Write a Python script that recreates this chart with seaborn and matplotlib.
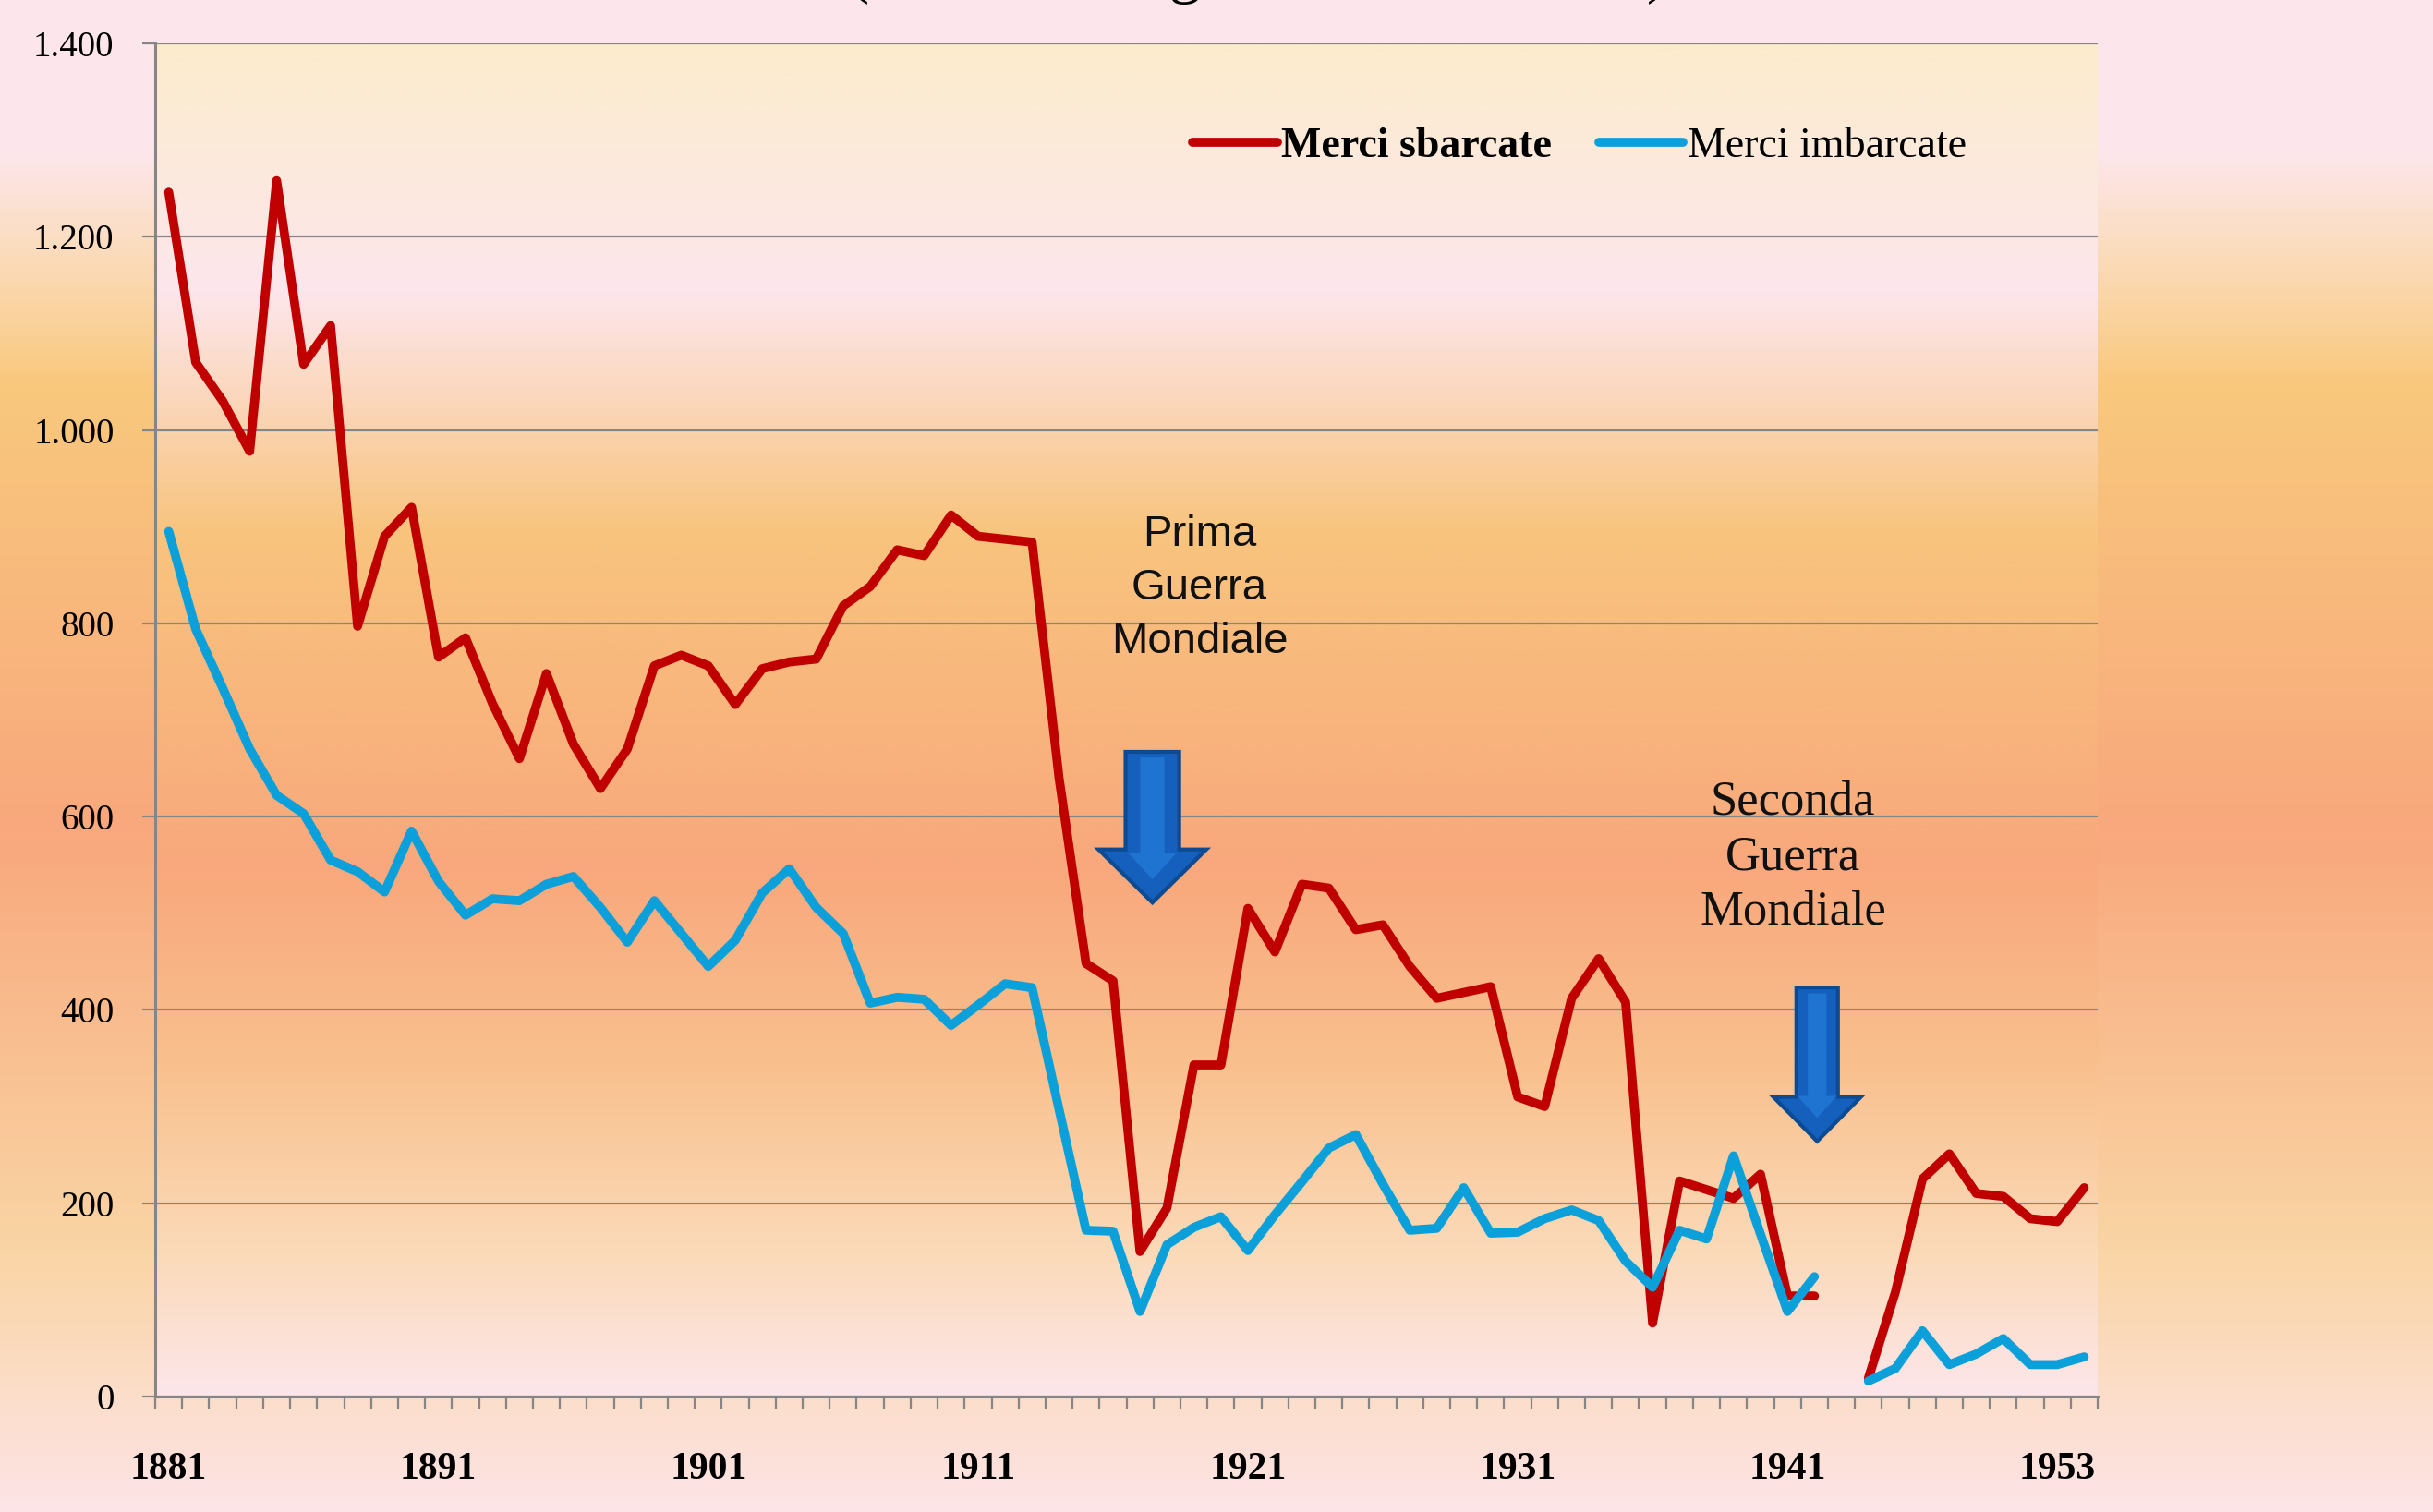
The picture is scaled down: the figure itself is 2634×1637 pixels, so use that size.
import numpy as np
import pandas as pd
import matplotlib as mpl
import matplotlib.pyplot as plt
import seaborn as sns
from matplotlib.colors import LinearSegmentedColormap
from matplotlib.lines import Line2D
from matplotlib.patches import FancyArrow
from matplotlib.ticker import FuncFormatter

# Categories: 1881-1942, one empty slot for the war gap, then 1946-1954
YEARS = list(range(1881, 1943)) + [1943] + list(range(1946, 1955))

# Merci sbarcate (thousand tonnes); None = no data
SBARCATE = [
    1246, 1070, 1030, 978, 1258, 1068, 1108, 797, 890, 920,
    765, 785, 717, 660, 748, 675, 629, 670, 756, 767,
    756, 716, 753, 760, 763, 818, 838, 876, 870, 912,
    890, 887, 884, 640, 448, 430, 150, 195, 343, 343,
    505, 460, 530, 526, 483, 488, 445, 412, 418, 424,
    310, 300, 412, 453, 408, 76, 223, 214, 205, 230,
    104, 104, None, 19, 108, 225, 251, 210, 207, 184,
    181, 216,
]
# Merci imbarcate
IMBARCATE = [
    895, 794, 733, 670, 622, 603, 555, 543, 522, 585,
    533, 498, 515, 513, 530, 538, 506, 470, 513, 479,
    445, 472, 521, 546, 506, 479, 407, 413, 411, 384,
    405, 427, 423, 297, 172, 171, 88, 157, 175, 186,
    151, 188, 222, 257, 271, 220, 172, 174, 216, 169,
    170, 184, 193, 182, 140, 113, 172, 163, 249, 168,
    88, 124, None, 16, 29, 68, 33, 44, 60, 33,
    33, 41,
]
SERIES = ("Merci sbarcate", "Merci imbarcate")
LABEL_EVERY = 10

RED = "#C00000"
BLUE = "#0CA0DB"
GRID = "#868686"
SERIF = ["Liberation Serif", "DejaVu Serif"]
SANS = ["Liberation Sans", "DejaVu Sans"]

rows = []
for name, vals in zip(SERIES, (SBARCATE, IMBARCATE)):
    seg = 0
    for i, v in enumerate(vals):
        if v is None:
            seg += 1
            continue
        rows.append({"pos": i, "value": v, "series": name, "segment": seg})
df = pd.DataFrame(rows)

sns.set_theme(style="white")
mpl.rcParams.update(
    {
        "font.family": SERIF,
        "text.color": "black",
        "axes.edgecolor": GRID,
        "xtick.color": GRID,
        "ytick.color": GRID,
        "xtick.labelcolor": "black",
        "ytick.labelcolor": "black",
    }
)

fig = plt.figure(figsize=(26.34, 16.37), dpi=100)

# figure background gradient (bottom -> top)
fig_cmap = LinearSegmentedColormap.from_list(
    "figbg",
    [
        (0.0, "#FDE4E6"),
        (0.17, "#FAD5A5"),
        (0.45, "#F8A87C"),
        (0.745, "#F9C87C"),
        (0.84, "#FBDDC0"),
        (0.90, "#FDE6EB"),
        (1.0, "#FDE6EB"),
    ],
)
bg = fig.add_axes([0, 0, 1, 1], zorder=-10)
bg.imshow(np.linspace(0, 1, 512).reshape(-1, 1), cmap=fig_cmap, aspect="auto",
          origin="lower", extent=(0, 1, 0, 1))
bg.set_axis_off()

ax = fig.add_axes([0.0638, 0.0764, 0.7984, 0.8949], zorder=1)
ax_cmap = LinearSegmentedColormap.from_list(
    "axbg",
    [
        (0.0, "#FDE6EA"),
        (0.105, "#FBDAB8"),
        (0.25, "#F9BF8C"),
        (0.39, "#F8A87C"),
        (0.64, "#F8C47E"),
        (0.818, "#FDE6EC"),
        (0.95, "#FCEBD6"),
        (1.0, "#FCEBCC"),
    ],
)
ax.imshow(np.linspace(0, 1, 512).reshape(-1, 1), cmap=ax_cmap, aspect="auto",
          origin="lower", extent=(0, 1, 0, 1), transform=ax.transAxes, zorder=-1)

sns.lineplot(
    data=df, x="pos", y="value", hue="series", units="segment", estimator=None,
    palette={SERIES[0]: RED, SERIES[1]: BLUE}, linewidth=7, legend=False,
    sort=False, ax=ax, zorder=3,
)

n = len(YEARS)
ax.set_xlim(-0.5, n - 0.5)
ax.set_ylim(0, 1400)
ax.set_yticks(range(0, 1401, 200))
ax.yaxis.set_major_formatter(FuncFormatter(lambda v, _: f"{v:,.0f}".replace(",", ".")))
major = list(range(0, n, LABEL_EVERY))
ax.set_xticks(major)
ax.set_xticklabels([str(YEARS[i]) for i in major], fontweight="bold")
ax.set_xticks(np.arange(-0.5, n, 1), minor=True)
ax.set_xlabel("")
ax.set_ylabel("")

ax.tick_params(axis="x", which="major", bottom=True, length=0, pad=43, labelsize=30)
ax.tick_params(axis="x", which="minor", bottom=True, length=9, width=1.6, color=GRID)
ax.tick_params(axis="y", left=True, length=10, width=1.6, pad=22, labelsize=28, color=GRID)

ax.yaxis.grid(True, color=GRID, linewidth=1.6)
ax.set_axisbelow(True)
for side in ("top", "right"):
    ax.spines[side].set_visible(False)
for side in ("left", "bottom"):
    ax.spines[side].set_color(GRID)
    ax.spines[side].set_linewidth(2.2)

# war markers
for x0, top, tip, head_base, w, hw in ((36.46, 667, 511, 566, 1.99, 4.0),
                                        (61.1, 423, 264, 310, 1.54, 3.25)):
    ax.add_patch(FancyArrow(x0, top, 0, tip - top, width=w, head_width=hw,
                            head_length=head_base - tip, length_includes_head=True,
                            facecolor="#1560BD", edgecolor="#0C4A92", linewidth=3, zorder=4))
    ax.add_patch(FancyArrow(x0, top - 6, 0, tip - top + 30, width=w * 0.45, head_width=hw * 0.45,
                            head_length=(head_base - tip) * 0.5, length_includes_head=True,
                            facecolor="#1E74D0", edgecolor="none", zorder=5))

ax.text(38.2, 836, "Prima\nGuerra\nMondiale", ha="center", va="center", fontsize=34,
        family=SANS, linespacing=1.42, color="#111111", zorder=6)
ax.text(60.2, 558, "Seconda\nGuerra\nMondiale", ha="center", va="center", fontsize=38,
        family=SERIF, linespacing=1.3, color="#111111", zorder=6)

handles = [Line2D([], [], color=RED, linewidth=7), Line2D([], [], color=BLUE, linewidth=7)]
leg = fig.legend(handles, SERIES, loc="center left", bbox_to_anchor=(0.4745, 0.903), ncol=2,
                 frameon=False, handlelength=2.0, handletextpad=0.1, columnspacing=1.1,
                 fontsize=33)
leg.get_texts()[0].set_fontweight("bold")

# title, cut off at the top edge as in the source slide
fig.text(0.517, 1.006, "(valori in migliaia di tonnellate)", ha="center", va="baseline",
         fontsize=50, family=SERIF)

fig.savefig("out.png", dpi=100)
